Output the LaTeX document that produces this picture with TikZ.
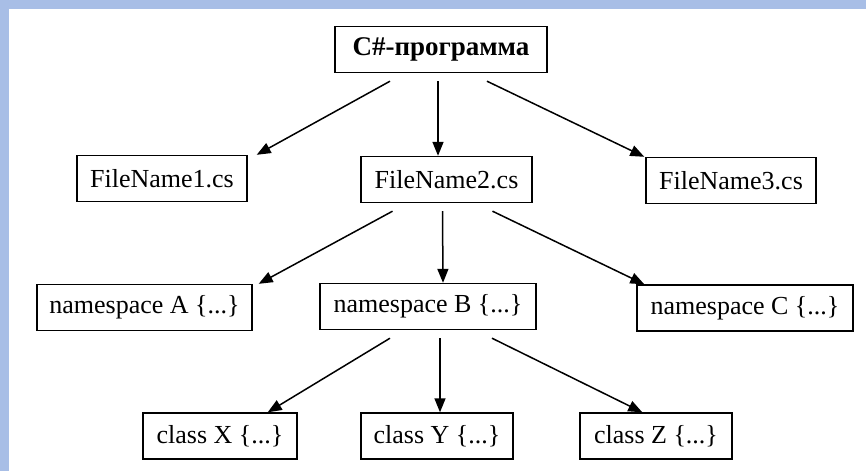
\documentclass[tikz,border=0pt]{standalone}
\usepackage{fontspec}
\setmainfont{Liberation Serif}
\usetikzlibrary{arrows.meta}
\definecolor{frameblue}{RGB}{168,190,230}
\tikzstyle{item} = [draw=black, fill=white, line width=1.4pt,
    rectangle, inner sep=0pt, minimum height=46pt, font=\fontsize{26}{30}\selectfont]
\tikzstyle{link} = [line width=1.5pt, -{Triangle[length=14pt,width=11pt]}]

\begin{document}
\begin{tikzpicture}[x=1pt,y=-1pt]
% frame
\fill[white] (0,0) rectangle (866,471);
\fill[frameblue] (0,0) rectangle (866,9);
\fill[frameblue] (0,0) rectangle (9,471);
\useasboundingbox (0,0) rectangle (866,471);

% top
\node[item, minimum width=212pt, font=\fontsize{27}{30}\selectfont\bfseries] (prog) at (441,49.5) {C\#-программа};

% files
\node[item, minimum width=170pt] (file1) at (162,178.5) {FileName1.cs};
\node[item, minimum width=171pt] (file2) at (446.5,179.5) {FileName2.cs};
\node[item, minimum width=170pt] (file3) at (731,180.5) {FileName3.cs};

% namespaces
\node[item, minimum width=215pt] (nsA) at (144.5,307.5) {namespace A \{...\}};
\node[item, minimum width=216pt] (nsB) at (428,306.5) {namespace B \{...\}};
\node[item, minimum width=216pt] (nsC) at (745,308) {namespace C \{...\}};

% classes
\node[item, minimum width=154pt] (clX) at (220,436) {class X \{...\}};
\node[item, minimum width=152pt] (clY) at (437,436) {class Y \{...\}};
\node[item, minimum width=152pt] (clZ) at (656,436) {class Z \{...\}};

% arrows
\draw[link] ([xshift=-51pt,yshift=-8pt]prog.south) -- ([xshift=9pt]file1.north east);
\draw[link] ([xshift=-3pt,yshift=-8pt]prog.south) -- ([xshift=-8.5pt]file2.north);
\draw[link] ([xshift=46pt,yshift=-8pt]prog.south) -- ([xshift=-1pt]file3.north west);

\draw[link] ([xshift=-54pt,yshift=-8pt]file2.south) -- ([xshift=6pt]nsA.north east);
\draw[link] ([xshift=-4pt,yshift=-8pt]file2.south) -- ([xshift=15pt]nsB.north);
\draw[link] ([xshift=46pt,yshift=-8pt]file2.south) -- ([xshift=8pt]nsC.north west);

\draw[link] ([xshift=-38pt,yshift=-8pt]nsB.south) -- ([xshift=-30pt]clX.north east);
\draw[link] ([xshift=12pt,yshift=-8pt]nsB.south) -- ([xshift=3pt]clY.north);
\draw[link] ([xshift=64pt,yshift=-8pt]nsB.south) -- ([xshift=63pt]clZ.north west);
\end{tikzpicture}
\end{document}
